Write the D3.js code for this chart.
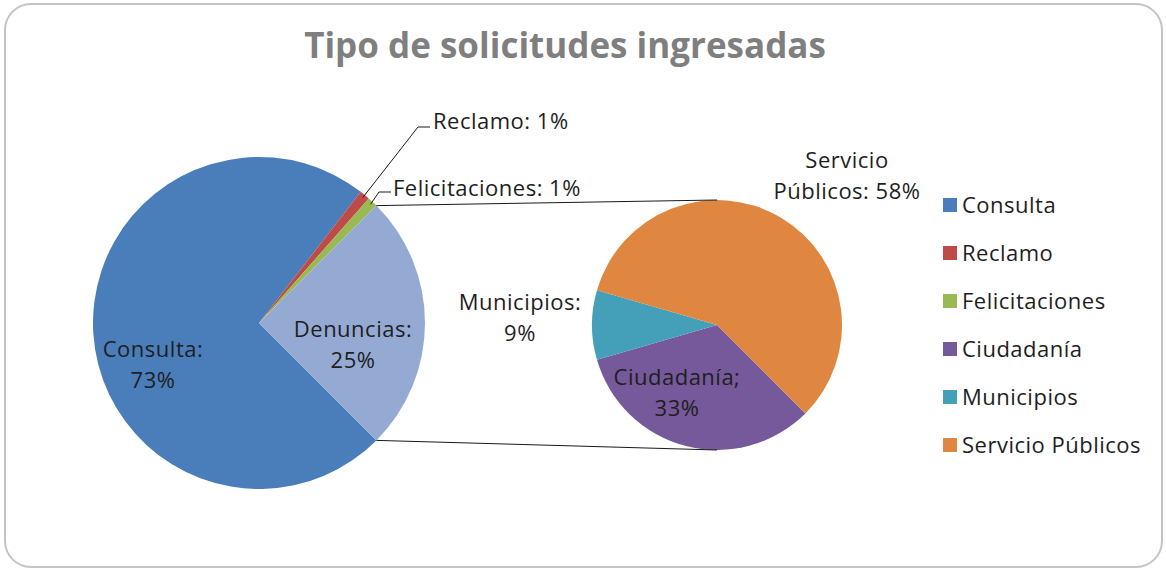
<!DOCTYPE html>
<html>
<head>
<meta charset="utf-8">
<script src="https://cdn.jsdelivr.net/npm/d3@7"></script>
<style>
  html, body { margin: 0; padding: 0; background: #fff; }
  svg { display: block; }
</style>
</head>
<body>
<svg id="chart" width="1166" height="570"></svg>
<script>
// ---- data ----
const title = "Tipo de solicitudes ingresadas";
const mainCategories = ["Consulta", "Reclamo", "Felicitaciones", "Denuncias"];
const mainValues = [73, 1, 1, 25];
const subCategories = ["Ciudadanía", "Municipios", "Servicio Públicos"];
const subValues = [33, 9, 58];
const legendItems = ["Consulta", "Reclamo", "Felicitaciones", "Ciudadanía", "Municipios", "Servicio Públicos"];

// ---- styles ----
const colors = {
  "Consulta": "#4A7EBB",
  "Reclamo": "#BE4B48",
  "Felicitaciones": "#98B954",
  "Denuncias": "#94AAD3",
  "Ciudadanía": "#76599A",
  "Municipios": "#44A0B8",
  "Servicio Públicos": "#DF8741"
};
const FONT = "'Open Sans', Lato, sans-serif";
const FS = 22;
const LSP = "0.5px";
const TXT = "#1e1e1e";

const svg = d3.select("#chart");

// frame
svg.append("rect")
  .attr("x", 5).attr("y", 4).attr("width", 1157).attr("height", 563)
  .attr("rx", 26).attr("ry", 26)
  .attr("fill", "#fff").attr("stroke", "#c4c4c4").attr("stroke-width", 2);

// title
svg.append("text")
  .attr("x", 565).attr("y", 58)
  .attr("text-anchor", "middle")
  .attr("font-family", FONT).attr("font-weight", 700)
  .attr("font-size", 35).attr("fill", "#7f7f7f")
  .text(title);

// ---- main pie ----
const c1 = {x: 259, y: 323}, r1 = 166;
const total1 = d3.sum(mainValues);
const otherFrac = mainValues[3] / total1;
const start1 = Math.PI / 2 + Math.PI * otherFrac; // "other" slice centered at 3 o'clock
const pie1 = d3.pie().sort(null).startAngle(start1).endAngle(start1 + 2 * Math.PI);
const arcs1 = pie1(mainValues);
const arc1 = d3.arc().innerRadius(0).outerRadius(r1);

const g1 = svg.append("g").attr("transform", `translate(${c1.x},${c1.y})`);
g1.selectAll("path").data(arcs1).join("path")
  .attr("d", arc1)
  .attr("fill", (d, i) => colors[mainCategories[i]]);

// ---- secondary pie ----
const c2 = {x: 717, y: 325}, r2 = 125;
const start2 = start1;
const pie2 = d3.pie().sort(null).startAngle(start2).endAngle(start2 + 2 * Math.PI);
const arcs2 = pie2(subValues);
const arc2 = d3.arc().innerRadius(0).outerRadius(r2);
const g2 = svg.append("g").attr("transform", `translate(${c2.x},${c2.y})`);
g2.selectAll("path").data(arcs2).join("path")
  .attr("d", arc2)
  .attr("fill", (d, i) => colors[subCategories[i]]);

// ---- connector lines ----
const polar = (c, r, a) => [c.x + r * Math.sin(a), c.y - r * Math.cos(a)];
const den = arcs1[3];
const connectors = [
  [polar(c1, r1, den.startAngle), polar(c2, r2, 0)],
  [polar(c1, r1, den.endAngle), polar(c2, r2, Math.PI)]
];
svg.selectAll("line.conn").data(connectors).join("line")
  .attr("class", "conn")
  .attr("x1", d => d[0][0]).attr("y1", d => d[0][1])
  .attr("x2", d => d[1][0]).attr("y2", d => d[1][1])
  .attr("stroke", "#1a1a1a").attr("stroke-width", 1);

// ---- data labels ----
const pct = v => Math.round(v) + "%";
const LS = 31;
function twoLine(g, x, y, l1, l2, anchor) {
  const t = g.append("text")
    .attr("font-family", FONT).attr("font-size", FS).attr("fill", TXT)
    .attr("letter-spacing", LSP)
    .attr("text-anchor", anchor || "middle");
  t.append("tspan").attr("x", x).attr("y", y).text(l1);
  if (l2) t.append("tspan").attr("x", x).attr("y", y + LS).text(l2);
}
// inside labels (offsets from pie centre, layout only)
twoLine(svg, c1.x - 106, c1.y + 34, mainCategories[0] + ":", pct(mainValues[0] / total1 * 100));
twoLine(svg, c1.x + 94, c1.y + 14, mainCategories[3] + ":", pct(mainValues[3] / total1 * 100));
const total2 = d3.sum(subValues);
twoLine(svg, c2.x - 197, c2.y - 15, subCategories[1] + ":", pct(subValues[1] / total2 * 100));
twoLine(svg, c2.x - 40, c2.y + 60, subCategories[0] + ";", pct(subValues[0] / total2 * 100));
twoLine(svg, c2.x + 130, c2.y - 157, "Servicio", "Públicos: " + pct(subValues[2] / total2 * 100));

// outside labels with leaders for small slices
const leaders = [
  {i: 1, elbow: [418, 127], end: [430, 127], text: [433, 129]},
  {i: 2, elbow: [379, 192], end: [391, 192], text: [393, 196]}
];
leaders.forEach(l => {
  const a = arcs1[l.i];
  const p = polar(c1, r1 - 3, (a.startAngle + a.endAngle) / 2);
  svg.append("polyline")
    .attr("points", [p, l.elbow, l.end].map(q => q.join(",")).join(" "))
    .attr("fill", "none").attr("stroke", "#1a1a1a").attr("stroke-width", 1);
  svg.append("text")
    .attr("x", l.text[0]).attr("y", l.text[1])
    .attr("font-family", FONT).attr("font-size", FS).attr("fill", TXT)
    .attr("letter-spacing", LSP)
    .text(mainCategories[l.i] + ": " + pct(mainValues[l.i] / total1 * 100));
});

// ---- legend ----
const lg = svg.append("g");
const ly = d3.scalePoint().domain(legendItems).range([205, 445]);
const rows = lg.selectAll("g").data(legendItems).join("g")
  .attr("transform", d => `translate(943,${ly(d)})`);
rows.append("rect").attr("x", 0).attr("y", -7).attr("width", 14).attr("height", 14)
  .attr("fill", d => colors[d]);
rows.append("text").attr("x", 19).attr("y", 7.5)
  .attr("font-family", FONT).attr("font-size", FS).attr("fill", TXT)
  .attr("letter-spacing", LSP)
  .text(d => d);
</script>
</body>
</html>
